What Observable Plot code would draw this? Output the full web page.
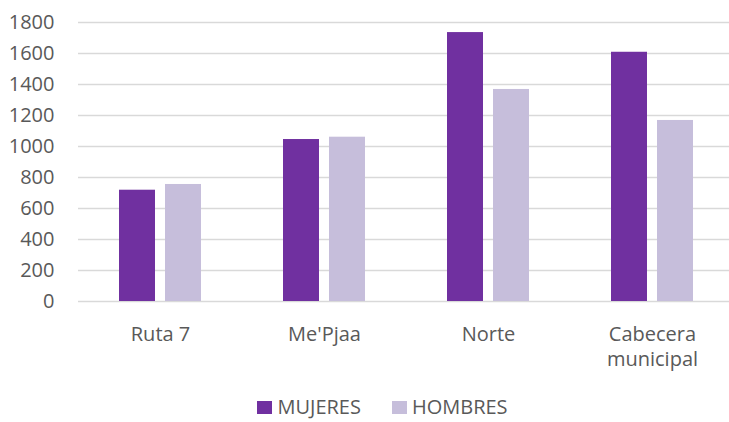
<!DOCTYPE html>
<html>
<head>
<meta charset="utf-8">
<script src="https://cdn.jsdelivr.net/npm/d3@7"></script>
<script src="https://cdn.jsdelivr.net/npm/@observablehq/plot@0.6"></script>
<style>
  html, body { margin: 0; padding: 0; background: #fff; }
  body { width: 729px; height: 422px; overflow: hidden; font-family: "Open Sans", sans-serif; }
  #legend { display: flex; justify-content: center; align-items: center; margin-top: 13px; padding-left: 36px; font-size: 20px; line-height: 18px; color: #595959; }
  #legend .item { display: flex; align-items: center; margin-right: 31px; }
  #legend .item:last-child { margin-right: 0; }
  #legend .sw { width: 15px; height: 13px; margin-right: 5px; }
</style>
</head>
<body>
<div id="chart"></div>
<div id="legend"></div>
<script>
const categories = ["Ruta 7", "Me'Pjaa", "Norte", "Cabecera\nmunicipal"];
const series = ["MUJERES", "HOMBRES"];
const mujeres = [718, 1045, 1735, 1608];
const hombres = [755, 1060, 1368, 1168];
const yTicks = [0, 200, 400, 600, 800, 1000, 1200, 1400, 1600, 1800];
const colors = ["#7030A0", "#C6BEDB"];

const data = [];
categories.forEach((c, i) => {
  data.push({category: c, serie: series[0], value: mujeres[i]});
  data.push({category: c, serie: series[1], value: hombres[i]});
});

const plot = Plot.plot({
  width: 729,
  height: 385,
  marginLeft: 78,
  marginRight: -5,
  marginTop: 22,
  marginBottom: 84,
  style: {fontFamily: "Open Sans, sans-serif", fontSize: "20px", color: "#595959", background: "#fff"},
  fx: {domain: categories, padding: 0, label: null},
  x: {domain: series, paddingInner: 0.2174, paddingOuter: 0.891, axis: null},
  y: {domain: [0, 1800], label: null},
  color: {domain: series, range: colors},
  marks: [
    Plot.gridY(yTicks, {stroke: "#D9D9D9", strokeOpacity: 1, strokeWidth: 1.3}),
    Plot.barY(data, {fx: "category", x: "serie", y: "value", fill: "serie"}),
    Plot.axisY(yTicks, {tickSize: 0, tickPadding: 24, tickFormat: d => String(d), fontSize: 20, fill: "#595959", label: null}),
    Plot.axisFx({anchor: "bottom", tickSize: 0, tickPadding: 22, fontSize: 20, fill: "#595959", lineHeight: 1.25, label: null})
  ]
});
document.getElementById("chart").appendChild(plot);

const legend = d3.select("#legend");
series.forEach((s, i) => {
  const item = legend.append("div").attr("class", "item");
  item.append("div").attr("class", "sw").style("background", colors[i]);
  item.append("span").text(s);
});
</script>
</body>
</html>
